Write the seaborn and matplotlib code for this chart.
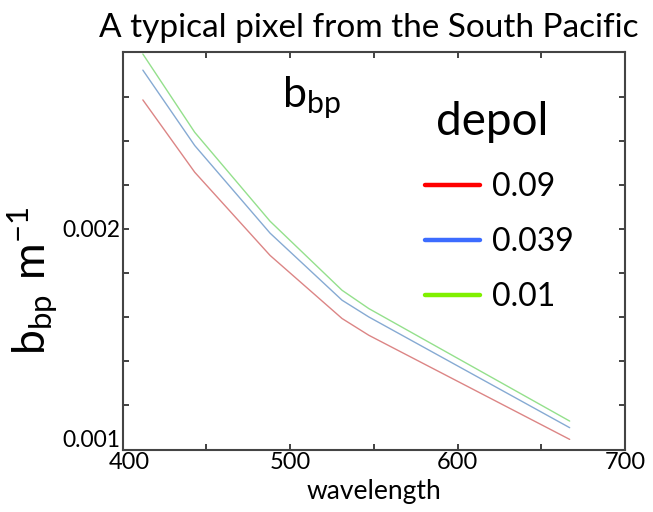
import matplotlib
matplotlib.use("Agg")
import matplotlib.pyplot as plt
import matplotlib.transforms as mtransforms
from matplotlib.lines import Line2D
import seaborn as sns
import pandas as pd

# ---- data ----
wavelength = [412, 443, 488, 531, 547, 667]
bbp_depol_009 = [0.002585, 0.002257, 0.001880, 0.001594, 0.001518, 0.001046]
bbp_depol_0039 = [0.002720, 0.002378, 0.001981, 0.001677, 0.001601, 0.001099]
bbp_depol_001 = [0.002793, 0.002438, 0.002035, 0.001722, 0.001639, 0.001129]
depol_labels = ["0.09", "0.039", "0.01"]
x_ticks = [400, 450, 500, 550, 600, 650, 700]
x_ticklabels = ["400", "", "500", "", "600", "", "700"]
y_ticks = [0.0010, 0.0012, 0.0014, 0.0016, 0.0018, 0.0020, 0.0022, 0.0024, 0.0026, 0.0028]
y_ticklabels = ["0.001", "", "", "", "", "0.002", "", "", "", ""]

line_colors = ["#dc8585", "#86aad3", "#94e08c"]
legend_colors = ["#ff0000", "#3c6cff", "#80f000"]

df = pd.concat([
    pd.DataFrame({"wavelength": wavelength, "bbp": vals, "depol": lab})
    for vals, lab in zip([bbp_depol_009, bbp_depol_0039, bbp_depol_001], depol_labels)
])

sns.set_style("white")
plt.rcParams["font.family"] = ["Lato", "DejaVu Sans"]
plt.rcParams["mathtext.fontset"] = "custom"
plt.rcParams["mathtext.rm"] = "Lato"
plt.rcParams["text.color"] = "black"
plt.rcParams["axes.labelcolor"] = "black"
plt.rcParams["xtick.labelcolor"] = "black"
plt.rcParams["ytick.labelcolor"] = "black"

fig = plt.figure(figsize=(6.53, 5.12), dpi=100)
ax = fig.add_axes([0.188, 0.122, 0.769, 0.7755])

sns.lineplot(data=df, x="wavelength", y="bbp", hue="depol", hue_order=depol_labels,
             palette=line_colors, linewidth=1.0, legend=False, ax=ax)

ax.set_xlim(400, 700)
ax.set_ylim(0.0010, 0.0028)
ax.set_xticks(x_ticks)
ax.set_xticklabels(x_ticklabels, fontsize=17)
ax.set_yticks(y_ticks)
ax.set_yticklabels(y_ticklabels, fontsize=16.5)
ax.tick_params(direction="in", length=4, width=1.3, color="#333333", labelcolor="black",
               top=True, right=True, bottom=True, left=True, pad=2)

for lab in ax.get_yticklabels():
    if lab.get_text() == "0.001":
        lab.set_transform(lab.get_transform() + mtransforms.ScaledTranslation(0, 8 / 72, fig.dpi_scale_trans))
for lab in ax.get_xticklabels():
    if lab.get_text() == "400":
        lab.set_transform(lab.get_transform() + mtransforms.ScaledTranslation(5 / 72, 0, fig.dpi_scale_trans))

for s in ax.spines.values():
    s.set_color("#444444")
    s.set_linewidth(1.5)

ax.set_xlabel("wavelength", fontsize=19, labelpad=4, color="black")
ax.set_ylabel(r"$\mathregular{b_{bp}\ m^{-1}}$", fontsize=32, labelpad=0, color="black")
ax.yaxis.set_label_coords(-0.126, 0.425)

fig.text(0.565, 0.945, "A typical pixel from the South Pacific", ha="center", va="center",
         fontsize=24, color="black")
ax.text(0.376, 0.885, r"$\mathregular{b_{bp}}$", transform=ax.transAxes, ha="center", va="center",
        fontsize=31, color="black")
ax.text(0.735, 0.825, "depol", transform=ax.transAxes, ha="center", va="center",
        fontsize=33, color="black")

handles = [Line2D([0], [0], color=c, linewidth=3.2) for c in legend_colors]
leg = ax.legend(handles, depol_labels, loc="center",
                bbox_to_anchor=(0.75, 0.5227), frameon=False, fontsize=23,
                handlelength=1.72, handletextpad=0.38, labelspacing=0.79, labelcolor="black")

fig.savefig("out.png", dpi=100)
